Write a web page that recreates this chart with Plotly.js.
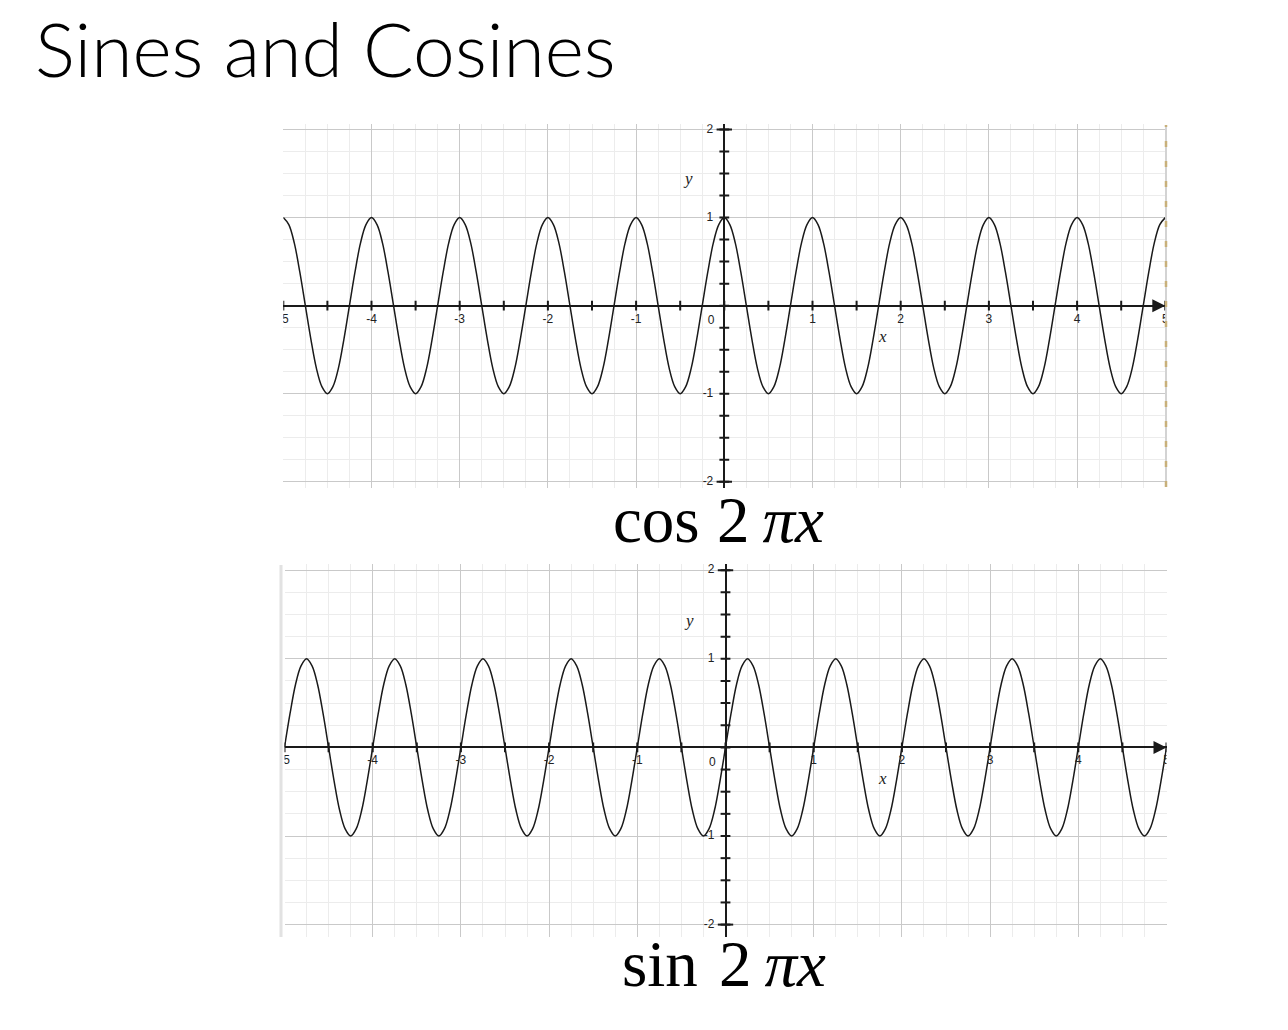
<!DOCTYPE html>
<html>
<head>
<meta charset="utf-8">
<script src="https://cdn.plot.ly/plotly-3.0.1.min.js"></script>
<style>html,body{margin:0;padding:0;background:#fff;}#chart{width:1288px;height:1030px;}</style>
</head>
<body>
<div id="chart"></div>
<script>
// sample positions (every 1/16 unit)
const xs = [
  -5,-4.9375,-4.875,-4.8125,-4.75,-4.6875,-4.625,-4.5625,-4.5,-4.4375,-4.375,-4.3125,-4.25,-4.1875,-4.125,-4.0625,
  -4,-3.9375,-3.875,-3.8125,-3.75,-3.6875,-3.625,-3.5625,-3.5,-3.4375,-3.375,-3.3125,-3.25,-3.1875,-3.125,-3.0625,
  -3,-2.9375,-2.875,-2.8125,-2.75,-2.6875,-2.625,-2.5625,-2.5,-2.4375,-2.375,-2.3125,-2.25,-2.1875,-2.125,-2.0625,
  -2,-1.9375,-1.875,-1.8125,-1.75,-1.6875,-1.625,-1.5625,-1.5,-1.4375,-1.375,-1.3125,-1.25,-1.1875,-1.125,-1.0625,
  -1,-0.9375,-0.875,-0.8125,-0.75,-0.6875,-0.625,-0.5625,-0.5,-0.4375,-0.375,-0.3125,-0.25,-0.1875,-0.125,-0.0625,
  0,0.0625,0.125,0.1875,0.25,0.3125,0.375,0.4375,0.5,0.5625,0.625,0.6875,0.75,0.8125,0.875,0.9375,
  1,1.0625,1.125,1.1875,1.25,1.3125,1.375,1.4375,1.5,1.5625,1.625,1.6875,1.75,1.8125,1.875,1.9375,
  2,2.0625,2.125,2.1875,2.25,2.3125,2.375,2.4375,2.5,2.5625,2.625,2.6875,2.75,2.8125,2.875,2.9375,
  3,3.0625,3.125,3.1875,3.25,3.3125,3.375,3.4375,3.5,3.5625,3.625,3.6875,3.75,3.8125,3.875,3.9375,
  4,4.0625,4.125,4.1875,4.25,4.3125,4.375,4.4375,4.5,4.5625,4.625,4.6875,4.75,4.8125,4.875,4.9375,
  5];
const cosVals = [
  1,0.92,0.71,0.38,0,-0.38,-0.71,-0.92,-1,-0.92,-0.71,-0.38,0,0.38,0.71,0.92,
  1,0.92,0.71,0.38,0,-0.38,-0.71,-0.92,-1,-0.92,-0.71,-0.38,0,0.38,0.71,0.92,
  1,0.92,0.71,0.38,0,-0.38,-0.71,-0.92,-1,-0.92,-0.71,-0.38,0,0.38,0.71,0.92,
  1,0.92,0.71,0.38,0,-0.38,-0.71,-0.92,-1,-0.92,-0.71,-0.38,0,0.38,0.71,0.92,
  1,0.92,0.71,0.38,0,-0.38,-0.71,-0.92,-1,-0.92,-0.71,-0.38,0,0.38,0.71,0.92,
  1,0.92,0.71,0.38,0,-0.38,-0.71,-0.92,-1,-0.92,-0.71,-0.38,0,0.38,0.71,0.92,
  1,0.92,0.71,0.38,0,-0.38,-0.71,-0.92,-1,-0.92,-0.71,-0.38,0,0.38,0.71,0.92,
  1,0.92,0.71,0.38,0,-0.38,-0.71,-0.92,-1,-0.92,-0.71,-0.38,0,0.38,0.71,0.92,
  1,0.92,0.71,0.38,0,-0.38,-0.71,-0.92,-1,-0.92,-0.71,-0.38,0,0.38,0.71,0.92,
  1,0.92,0.71,0.38,0,-0.38,-0.71,-0.92,-1,-0.92,-0.71,-0.38,0,0.38,0.71,0.92,
  1];
const sinVals = [
  0,0.38,0.71,0.92,1,0.92,0.71,0.38,0,-0.38,-0.71,-0.92,-1,-0.92,-0.71,-0.38,
  0,0.38,0.71,0.92,1,0.92,0.71,0.38,0,-0.38,-0.71,-0.92,-1,-0.92,-0.71,-0.38,
  0,0.38,0.71,0.92,1,0.92,0.71,0.38,0,-0.38,-0.71,-0.92,-1,-0.92,-0.71,-0.38,
  0,0.38,0.71,0.92,1,0.92,0.71,0.38,0,-0.38,-0.71,-0.92,-1,-0.92,-0.71,-0.38,
  0,0.38,0.71,0.92,1,0.92,0.71,0.38,0,-0.38,-0.71,-0.92,-1,-0.92,-0.71,-0.38,
  0,0.38,0.71,0.92,1,0.92,0.71,0.38,0,-0.38,-0.71,-0.92,-1,-0.92,-0.71,-0.38,
  0,0.38,0.71,0.92,1,0.92,0.71,0.38,0,-0.38,-0.71,-0.92,-1,-0.92,-0.71,-0.38,
  0,0.38,0.71,0.92,1,0.92,0.71,0.38,0,-0.38,-0.71,-0.92,-1,-0.92,-0.71,-0.38,
  0,0.38,0.71,0.92,1,0.92,0.71,0.38,0,-0.38,-0.71,-0.92,-1,-0.92,-0.71,-0.38,
  0,0.38,0.71,0.92,1,0.92,0.71,0.38,0,-0.38,-0.71,-0.92,-1,-0.92,-0.71,-0.38,
  0];

// axis tick marks and labels
const xTickMarks = [-5,-4.5,-4,-3.5,-3,-2.5,-2,-1.5,-1,-0.5,0,0.5,1,1.5,2,2.5,3,3.5,4,4.5,5];
const yTickMarks = [-2,-1.75,-1.5,-1.25,-1,-0.75,-0.5,-0.25,0,0.25,0.5,0.75,1,1.25,1.5,1.75,2];
const yEndMarks = [-2,2];
const xLabelVals = [-5,-4,-3,-2,-1,1,2,3,4,5];
const xLabelText = ['-5','-4','-3','-2','-1','1','2','3','4','5'];
const yLabelVals = [-2,-1,1,2];
const yLabelText = ['-2','-1','1','2'];
const originLabel = ['0'];
const funcNames = ['cos', 'sin'];
const funcArg = '2\u2009<i>π</i><i>x</i>';
const titleText = 'Sines and Cosines';

const W = 1288, H = 1030;
const ink = '#1a1a1a';
const tickFont = {family: 'Liberation Sans, Arial, sans-serif', size: 12, color: '#222'};

function zerosLike(a){ return a.map(function(){ return 0; }); }

function panelTraces(xa, ya, yvals){
  return [
    {x: xs, y: yvals, xaxis: xa, yaxis: ya, mode: 'lines', type: 'scatter',
     line: {color: ink, width: 1.5, shape: 'spline', smoothing: 1}, hoverinfo: 'skip'},
    {x: xTickMarks, y: zerosLike(xTickMarks), xaxis: xa, yaxis: ya, mode: 'markers', type: 'scatter',
     marker: {symbol: 'line-ns-open', size: 7, color: ink, line: {color: ink, width: 2}}, hoverinfo: 'skip'},
    {x: zerosLike(yTickMarks), y: yTickMarks, xaxis: xa, yaxis: ya, mode: 'markers', type: 'scatter',
     marker: {symbol: 'line-ew-open', size: 7, color: ink, line: {color: ink, width: 2}}, hoverinfo: 'skip'},
    {x: zerosLike(yEndMarks), y: yEndMarks, xaxis: xa, yaxis: ya, mode: 'markers', type: 'scatter',
     marker: {symbol: 'line-ew-open', size: 11, color: ink, line: {color: ink, width: 2}}, hoverinfo: 'skip'},
    {x: xLabelVals, y: zerosLike(xLabelVals), xaxis: xa, yaxis: ya, mode: 'markers+text', type: 'scatter',
     text: xLabelText, textposition: 'bottom center', textfont: tickFont,
     marker: {size: 11, color: 'rgba(0,0,0,0)'}, hoverinfo: 'skip'},
    {x: zerosLike(yLabelVals), y: yLabelVals, xaxis: xa, yaxis: ya, mode: 'markers+text', type: 'scatter',
     text: yLabelText, textposition: 'middle left', textfont: tickFont,
     marker: {size: 16, color: 'rgba(0,0,0,0)'}, hoverinfo: 'skip'},
    {x: [0], y: [0], xaxis: xa, yaxis: ya, mode: 'markers+text', type: 'scatter',
     text: originLabel, textposition: 'bottom left', textfont: tickFont,
     marker: {size: 14, color: 'rgba(0,0,0,0)'}, hoverinfo: 'skip'}
  ];
}

const data = [].concat(panelTraces('x', 'y', cosVals), panelTraces('x2', 'y2', sinVals));

function xAxis(domain, anchor){
  return {domain: domain, anchor: anchor, range: [-5, 5], dtick: 1, tick0: 0,
    showgrid: true, gridcolor: '#c9c9c9', gridwidth: 1,
    minor: {dtick: 0.25, tick0: 0, showgrid: true, gridcolor: '#ececec', gridwidth: 1},
    zeroline: true, zerolinecolor: ink, zerolinewidth: 2,
    showticklabels: false, ticks: '', showline: false, fixedrange: true};
}
function yAxis(domain, anchor, range){
  return {domain: domain, anchor: anchor, range: range, dtick: 1, tick0: 0,
    showgrid: true, gridcolor: '#c9c9c9', gridwidth: 1,
    minor: {dtick: 0.25, tick0: 0, showgrid: true, gridcolor: '#ececec', gridwidth: 1},
    zeroline: true, zerolinecolor: ink, zerolinewidth: 2,
    showticklabels: false, ticks: '', showline: false, fixedrange: true};
}

const axisLabelFont = {family: 'Liberation Serif, Times New Roman, serif', size: 17, color: '#222'};
const mathFont = {family: 'Liberation Serif, Times New Roman, serif', size: 65, color: '#000'};

function mathLabel(name, rightOfName, leftOfArg, midY){
  return [
    {text: name, xref: 'paper', yref: 'paper', x: rightOfName / W, y: 1 - midY / H,
     xanchor: 'right', yanchor: 'middle', showarrow: false, font: mathFont},
    {text: funcArg, xref: 'paper', yref: 'paper', x: leftOfArg / W, y: 1 - midY / H,
     xanchor: 'left', yanchor: 'middle', showarrow: false, font: mathFont}
  ];
}

const layout = {
  width: W, height: H,
  margin: {l: 0, r: 0, t: 0, b: 0},
  paper_bgcolor: '#fff', plot_bgcolor: '#fff',
  showlegend: false,
  title: {text: titleText, xref: 'container', yref: 'container',
    x: 35 / W, xanchor: 'left', y: 1 - 51 / H, yanchor: 'middle',
    font: {family: 'Lato, sans-serif', size: 75, color: '#000', weight: 300}},
  xaxis: xAxis([283.3 / W, 1165.3 / W], 'y'),
  yaxis: yAxis([1 - 487.5 / H, 1 - 124.3 / H], 'x', [-2.066, 2.06]),
  xaxis2: xAxis([284.5 / W, 1166.5 / W], 'y2'),
  yaxis2: yAxis([1 - 937 / H, 1 - 564 / H], 'x2', [-2.14, 2.07]),
  annotations: [
    {text: '<i>y</i>', xref: 'x', yref: 'y', x: -0.41, y: 1.45, showarrow: false, font: axisLabelFont},
    {text: '<i>x</i>', xref: 'x', yref: 'y', x: 1.79, y: -0.35, showarrow: false, font: axisLabelFont},
    {text: '<i>y</i>', xref: 'x2', yref: 'y2', x: -0.41, y: 1.43, showarrow: false, font: axisLabelFont},
    {text: '<i>x</i>', xref: 'x2', yref: 'y2', x: 1.78, y: -0.35, showarrow: false, font: axisLabelFont},
    {text: '', xref: 'x', yref: 'y', x: 5, y: 0, ax: -12, ay: 0, showarrow: true,
     arrowhead: 2, arrowsize: 1.3, arrowwidth: 2, arrowcolor: ink},
    {text: '', xref: 'x2', yref: 'y2', x: 5, y: 0, ax: -12, ay: 0, showarrow: true,
     arrowhead: 2, arrowsize: 1.3, arrowwidth: 2, arrowcolor: ink}
  ].concat(mathLabel(funcNames[0], 702, 715, 520), mathLabel(funcNames[1], 700, 717, 964)),
  shapes: [
    {type: 'line', xref: 'paper', yref: 'paper', x0: 1166 / W, x1: 1166 / W, y0: 1 - 487 / H, y1: 1 - 125 / H,
     line: {color: '#c4c4c4', width: 1.5}},
    {type: 'line', xref: 'paper', yref: 'paper', x0: 1166 / W, x1: 1166 / W, y0: 1 - 487 / H, y1: 1 - 125 / H,
     line: {color: '#c8b07a', width: 2.5, dash: '6px,14px'}},
    {type: 'line', xref: 'paper', yref: 'paper', x0: 281 / W, x1: 281 / W, y0: 1 - 937 / H, y1: 1 - 565 / H,
     line: {color: '#e2e2e2', width: 3}}
  ]
};

Plotly.newPlot('chart', data, layout, {displayModeBar: false, staticPlot: true});
</script>
</body>
</html>
